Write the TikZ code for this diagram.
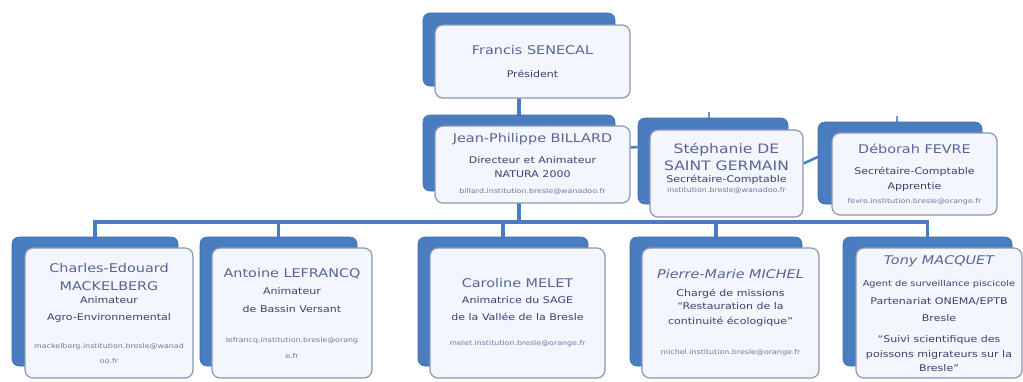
\documentclass[tikz,border=0pt]{standalone}
\usepackage{fontspec}
\setmainfont[FakeStretch=1.2]{DejaVu Sans}
\usetikzlibrary{backgrounds,calc}
\definecolor{backblue}{RGB}{74,124,192}
\definecolor{backedge}{RGB}{62,108,176}
\definecolor{frontfill}{RGB}{243,246,252}
\definecolor{frontedge}{RGB}{138,152,180}
\definecolor{namec}{RGB}{86,100,150}
\definecolor{titlec}{RGB}{55,66,115}
\definecolor{mailc}{RGB}{112,122,154}
\newcommand\pname{\fontsize{12}{13}\selectfont\color{namec}}
\newcommand\pbig{\fontsize{13}{13}\selectfont\color{namec}}
\newcommand\ptitle{\fontsize{9.2}{13}\selectfont\color{titlec}}
\newcommand\pmail{\fontsize{6.6}{13}\selectfont\color{mailc}}
\tikzset{
  backbox/.style={draw=backedge, fill=backblue, rounded corners=7pt, line width=0.6pt, inner sep=0pt},
  frontbox/.style={draw=frontedge, fill=frontfill, rounded corners=8pt, line width=1.2pt, inner sep=2pt, align=center, font=\fontsize{8}{13}\selectfont},
  link/.style={draw=backblue, line width=3.5pt},
  tick/.style={draw=backblue!80!white, line width=1.2pt}
}
\begin{document}
\begin{tikzpicture}[x=1pt,y=-1pt]
\useasboundingbox (0,0) rectangle (1023,381);
% Francis
\node[backbox, minimum width=192pt, minimum height=73pt] (frb) at (519,49.5) {};
\node[frontbox, minimum width=195pt, minimum height=73pt] (frf) at (532.5,61.5) {\pname Francis SENECAL\\[10pt]\ptitle Président};
% Jean-Philippe
\node[backbox, minimum width=192pt, minimum height=76pt] (jpb) at (519,153) {};
\node[frontbox, minimum width=195pt, minimum height=77pt] (jpf) at (532.5,164.5) {\pname Jean-Philippe BILLARD\\[8pt]\ptitle Directeur et Animateur\\[1pt]\ptitle NATURA 2000\\[3pt]\pmail billard.institution.bresle@wanadoo.fr};
% Stephanie
\node[backbox, minimum width=150pt, minimum height=86pt] (stb) at (713,161) {};
\node[frontbox, minimum width=153pt, minimum height=87pt] (stf) at (726.5,173.5) {\pbig Stéphanie DE\\[4pt]\pbig SAINT GERMAIN\\[-1pt]\ptitle Secrétaire-Comptable\\[-3pt]\pmail institution.bresle@wanadoo.fr\\[-1pt]\mbox{}};
% Deborah
\node[backbox, minimum width=164pt, minimum height=82pt] (dbb) at (900,163) {};
\node[frontbox, minimum width=165pt, minimum height=82pt] (dbf) at (914.5,174) {\pname Déborah FEVRE\\[8pt]\ptitle Secrétaire-Comptable\\[2pt]\ptitle Apprentie\\[1pt]\pmail fevre.institution.bresle@orange.fr};
% Charles-Edouard
\node[backbox, minimum width=166pt, minimum height=129pt] (ceb) at (95,301.5) {};
\node[frontbox, minimum width=168pt, minimum height=130pt] (cef) at (109,313) {\pname Charles-Edouard\\[5pt]\pname MACKELBERG\\\ptitle Animateur\\[4pt]\ptitle Agro-Environnemental\\[15pt]\pmail mackelberg.institution.bresle@wanad\\[2pt]\pmail oo.fr};
% Antoine
\node[backbox, minimum width=157pt, minimum height=129pt] (alb) at (278.5,301.5) {};
\node[frontbox, minimum width=160pt, minimum height=130pt] (alf) at (292,313) {\pname Antoine LEFRANCQ\\[4pt]\ptitle Animateur\\[5pt]\ptitle de Bassin Versant\\[17pt]\pmail lefrancq.institution.bresle@orang\\[3pt]\pmail e.fr};
% Caroline
\node[backbox, minimum width=170pt, minimum height=129pt] (cmb) at (503,301.5) {};
\node[frontbox, minimum width=175pt, minimum height=130pt] (cmf) at (517.5,313) {\pname Caroline MELET\\[3pt]\ptitle Animatrice du SAGE\\[4pt]\ptitle de la Vallée de la Bresle\\[12pt]\pmail melet.institution.bresle@orange.fr};
% Pierre-Marie
\node[backbox, minimum width=172pt, minimum height=129pt] (pmb) at (716,301.5) {};
\node[frontbox, minimum width=177pt, minimum height=130pt] (pmf) at (730.5,313) {\mbox{}\\[-5pt]\pname\itshape Pierre-Marie MICHEL\\[5pt]\ptitle Chargé de missions\\\ptitle “Restauration de la\\[2pt]\ptitle continuité écologique”\\[17pt]\pmail michel.institution.bresle@orange.fr};
% Tony
\node[backbox, minimum width=169pt, minimum height=129pt] (tmb) at (927.5,301.5) {};
\node[frontbox, minimum width=166pt, minimum height=130pt] (tmf) at (939,313) {\mbox{}\\[-3pt]\pname\itshape Tony MACQUET\\[9pt]\ptitle\fontsize{8.2}{13}\selectfont Agent de surveillance piscicole\\[5pt]\ptitle Partenariat ONEMA/EPTB\\[4pt]\ptitle Bresle\\[8pt]\ptitle “Suivi scientifique des\\[2pt]\ptitle poissons migrateurs sur la\\[1pt]\ptitle Bresle”};
% connectors
\coordinate (bus) at (0,222);
\coordinate (sttick) at (709,112);
\coordinate (dbtick) at (897,116);
\begin{pgfonlayer}{background}
\draw[link] (frb.south) -- (jpb.north);
\draw[link] (jpb.south) -- (jpb.south |- bus);
\draw[link] (ceb.north) -- (ceb.north |- bus) -- (tmb.north |- bus) -- (tmb.north);
\draw[link] (alb.north) -- (alb.north |- bus);
\draw[link] (cmb.north) -- (cmb.north |- bus);
\draw[link] (pmb.north) -- (pmb.north |- bus);
\draw[link, line width=2.5pt] ([yshift=17pt]jpf.east) -- ([yshift=14pt]stb.west);
\draw[link, line width=2.5pt] ([yshift=10pt]stf.east) -- ([yshift=6pt]dbb.west);
\draw[tick] (sttick) -- (sttick |- stb.north);
\draw[tick] (dbtick) -- (dbtick |- dbb.north);
\end{pgfonlayer}
\end{tikzpicture}
\end{document}
